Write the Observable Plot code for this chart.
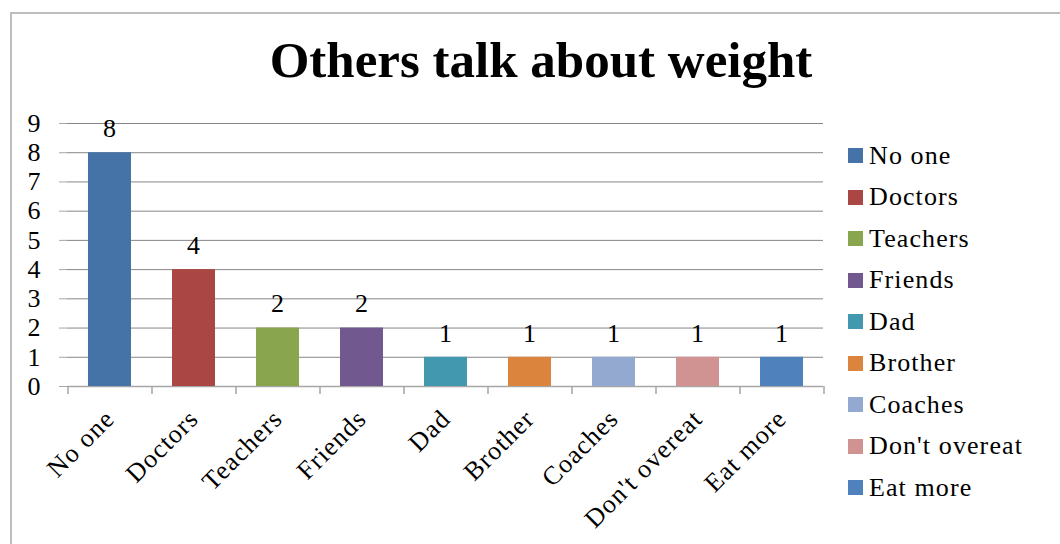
<!DOCTYPE html>
<html>
<head>
<meta charset="utf-8">
<script src="https://cdn.jsdelivr.net/npm/d3@7"></script>
<script src="https://cdn.jsdelivr.net/npm/@observablehq/plot@0.6"></script>
<style>
  html, body { margin: 0; padding: 0; background: #fff; }
  #wrap { position: relative; width: 1060px; height: 544px; overflow: hidden; font-family: "Liberation Serif", serif; }
  #frame { position: absolute; left: 10px; top: 12px; width: 1100px; height: 600px; border-left: 2px solid #bdbdbd; border-top: 2px solid #bdbdbd; box-sizing: border-box; }
  #title { position: absolute; left: 0; width: 1082px; top: 31px; text-align: center; font-family: "Liberation Serif", serif; font-weight: bold; font-size: 51px; color: #000; }
  #legend { position: absolute; left: 848px; top: 135px; }
  .li { display: flex; align-items: center; height: 41.5px; font-size: 26px; letter-spacing: 1.1px; color: #000; }
  .sw { width: 15px; height: 15px; margin-right: 6px; }
  #chart { position: absolute; left: 0; top: 0; }
</style>
</head>
<body>
<div id="wrap">
  <div id="frame"></div>
  <div id="chart"></div>
  <div id="title"></div>
  <div id="legend"></div>
</div>
<script>
const categories = ["No one", "Doctors", "Teachers", "Friends", "Dad", "Brother", "Coaches", "Don't overeat", "Eat more"];
const counts = [8, 4, 2, 2, 1, 1, 1, 1, 1];
const colors = ["#4572A7", "#AA4643", "#89A54E", "#71588F", "#4198AF", "#DB843D", "#93A9CF", "#D19392", "#4F81BD"];
const yTicks = [0, 1, 2, 3, 4, 5, 6, 7, 8, 9];
const titleText = "Others talk about weight";

const data = categories.map((c, i) => ({category: c, count: counts[i], color: colors[i]}));

document.getElementById("title").textContent = titleText;

const lastCat = categories[categories.length - 1];

const chart = Plot.plot({
  width: 1060,
  height: 544,
  marginLeft: 67,
  marginRight: 237,
  marginTop: 123,
  marginBottom: 158,
  style: {fontFamily: "Liberation Serif, serif", fontSize: "26px", color: "#000", background: "transparent", letterSpacing: "1.1px"},
  x: {domain: categories, paddingInner: 0.49, paddingOuter: 0.245, label: null},
  y: {domain: [0, 9], ticks: yTicks, label: null},
  color: {domain: categories, range: colors},
  marks: [
    Plot.gridY(yTicks, {stroke: "#868686", strokeOpacity: 1, strokeWidth: 1}),
    Plot.ruleX([0], {frameAnchor: "left", y1: 0, y2: 9, stroke: "#a6a6a6", strokeWidth: 1.5}),
    Plot.ruleY([0], {stroke: "#a6a6a6", strokeWidth: 1.5}),
    Plot.axisY(yTicks, {tickSize: 8, tickPadding: 18, stroke: "#a6a6a6", fontSize: 26, label: null}),
    Plot.ruleX(categories, {x: d => d, y1: 0, y2: 0, dx: -42, insetBottom: -8, stroke: "#a6a6a6", strokeWidth: 1.5}),
    Plot.ruleX([lastCat], {x: d => d, y1: 0, y2: 0, dx: 42, insetBottom: -8, stroke: "#a6a6a6", strokeWidth: 1.5}),
    Plot.barY(data, {x: "category", y: "count", fill: "category"}),
    Plot.text(data, {x: "category", y: "count", text: d => String(d.count), dy: -24, fontSize: 26, fill: "#000"}),
    Plot.axisX({tickSize: 0, tickRotate: -45, tickPadding: 28, textAnchor: "end", fontSize: 26, label: null})
  ]
});
document.getElementById("chart").appendChild(chart);

const legend = document.getElementById("legend");
data.forEach(d => {
  const row = document.createElement("div");
  row.className = "li";
  const sw = document.createElement("div");
  sw.className = "sw";
  sw.style.background = d.color;
  const t = document.createElement("span");
  t.textContent = d.category;
  row.appendChild(sw);
  row.appendChild(t);
  legend.appendChild(row);
});
</script>
</body>
</html>
